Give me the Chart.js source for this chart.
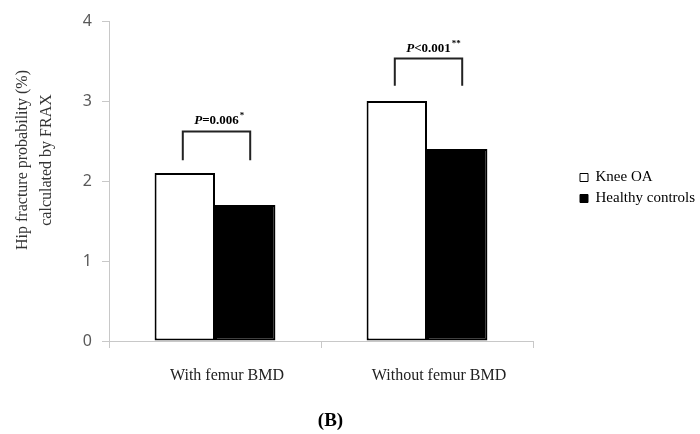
<!DOCTYPE html>
<html>
<head>
<meta charset="utf-8">
<script src="https://cdn.jsdelivr.net/npm/chart.js@4.4.0/dist/chart.umd.min.js"></script>
<style>
  html, body { margin: 0; padding: 0; background: #fff; }
  #wrap { width: 700px; height: 434px; }
</style>
</head>
<body>
<div id="wrap"><canvas id="chart"></canvas></div>
<script>
var categories = ["With femur BMD", "Without femur BMD"];
var kneeOA = [2.1, 3.0];
var healthyControls = [1.7, 2.4];
var bracketTop = [2.62, 3.53];
var bracketBottom = [2.26, 3.19];
var pLabels = ["=0.006", "<0.001"];
var pStars = ["*", "**"];
var yTicks = [0, 1, 2, 3, 4];

var serif = "'Liberation Serif', 'Times New Roman', serif";
var axisGray = "#c8c8c8";

// brackets with P values above each pair of bars
var bracketPlugin = {
    id: "brackets",
    afterDatasetsDraw: function(chart) {
        var ctx = chart.ctx;
        var y = chart.scales.y;
        var m0 = chart.getDatasetMeta(0), m1 = chart.getDatasetMeta(1);
        ctx.save();
        ctx.strokeStyle = "#222";
        ctx.lineWidth = 2;
        for (var i = 0; i < categories.length; i++) {
            var x1 = m0.data[i].x - 2;
            var x2 = m1.data[i].x + 5;
            var yt = y.getPixelForValue(bracketTop[i]);
            var yb = y.getPixelForValue(bracketBottom[i]);
            ctx.beginPath();
            ctx.moveTo(x1, yb);
            ctx.lineTo(x1, yt);
            ctx.lineTo(x2, yt);
            ctx.lineTo(x2, yb);
            ctx.stroke();

            // label: italic bold P, bold rest, superscript stars
            var pFont = "italic bold 13px " + serif;
            var rFont = "bold 13px " + serif;
            var sFont = "bold 9px " + serif;
            ctx.font = pFont; var wP = ctx.measureText("P").width;
            ctx.font = rFont; var wR = ctx.measureText(pLabels[i]).width;
            var cx = (x1 + x2) / 2;
            var sx = cx - (wP + wR) / 2;
            var base = yt - 7;
            ctx.fillStyle = "#000";
            ctx.textBaseline = "alphabetic";
            ctx.textAlign = "left";
            ctx.font = pFont; ctx.fillText("P", sx, base);
            ctx.font = rFont; ctx.fillText(pLabels[i], sx + wP, base);
            ctx.font = sFont; ctx.fillText(pStars[i], sx + wP + wR + 1, base - 6);
        }
        ctx.restore();
    }
};

// two-line y axis title, placed like the original figure
var yTitlePlugin = {
    id: "yTitle",
    afterDraw: function(chart) {
        var ctx = chart.ctx;
        ctx.save();
        ctx.translate(0, 160);
        ctx.rotate(-Math.PI / 2);
        ctx.font = "16px " + serif;
        ctx.fillStyle = "#333";
        ctx.textAlign = "center";
        ctx.textBaseline = "middle";
        ctx.fillText("Hip fracture probability (%)", 0, 23);
        ctx.fillText("calculated by FRAX", 0, 47);
        ctx.restore();
    }
};

var chart = new Chart(document.getElementById("chart"), {
    type: "bar",
    data: {
        labels: categories,
        datasets: [
            {
                label: "Knee OA",
                data: kneeOA,
                backgroundColor: "#ffffff",
                borderColor: "#000000",
                borderWidth: 2,
                borderSkipped: false
            },
            {
                label: "Healthy controls",
                data: healthyControls,
                backgroundColor: "#000000",
                borderColor: "#000000",
                borderWidth: 2,
                borderSkipped: false
            }
        ]
    },
    options: {
        responsive: true,
        maintainAspectRatio: false,
        animation: false,
        categoryPercentage: 0.57,
        barPercentage: 1.0,
        layout: { padding: { top: 21, left: 0, right: 0, bottom: 2 } },
        plugins: {
            legend: {
                position: "right",
                fullSize: false,
                maxWidth: 126,
                title: {
                    display: true,
                    text: " ",
                    font: { size: 10 },
                    padding: 1
                },
                labels: {
                    boxWidth: 8,
                    boxHeight: 8,
                    padding: 6,
                    color: "#000",
                    font: { family: serif, size: 15 },
                    generateLabels: function(chart) {
                        return chart.data.datasets.map(function(ds, i) {
                            return {
                                text: ds.label,
                                fillStyle: ds.backgroundColor,
                                strokeStyle: "#000",
                                lineWidth: 1,
                                fontColor: "#000",
                                datasetIndex: i
                            };
                        });
                    }
                }
            },
            tooltip: { enabled: false }
        },
        scales: {
            x: {
                grid: {
                    display: true,
                    drawOnChartArea: false,
                    drawTicks: true,
                    tickLength: 7,
                    color: axisGray
                },
                border: { color: axisGray, width: 1 },
                ticks: {
                    color: "#222",
                    font: { family: serif, size: 16 },
                    padding: 18,
                    labelOffset: 12,
                    maxRotation: 0
                },
                title: {
                    display: true,
                    text: "\u2003(B)",
                    color: "#000",
                    font: { family: serif, size: 19, weight: "bold" },
                    padding: { top: 0, bottom: 0 }
                },
                afterFit: function(scale) { scale.height = 91; }
            },
            y: {
                min: 0,
                max: 4,
                afterBuildTicks: function(scale) {
                    scale.ticks = yTicks.map(function(v) { return { value: v }; });
                },
                grid: {
                    display: true,
                    drawOnChartArea: false,
                    drawTicks: true,
                    tickLength: 7,
                    color: axisGray
                },
                border: { color: axisGray, width: 1 },
                ticks: {
                    color: "#595959",
                    font: { family: "'Noto Sans', sans-serif", size: 16 },
                    padding: 10
                },
                afterFit: function(scale) { scale.width = 109; }
            },
            gap: {
                type: "linear",
                position: "right",
                display: true,
                grid: { display: false },
                border: { display: false },
                ticks: { display: false },
                afterFit: function(scale) { scale.width = 41; }
            }
        }
    },
    plugins: [bracketPlugin, yTitlePlugin]
});
</script>
</body>
</html>
